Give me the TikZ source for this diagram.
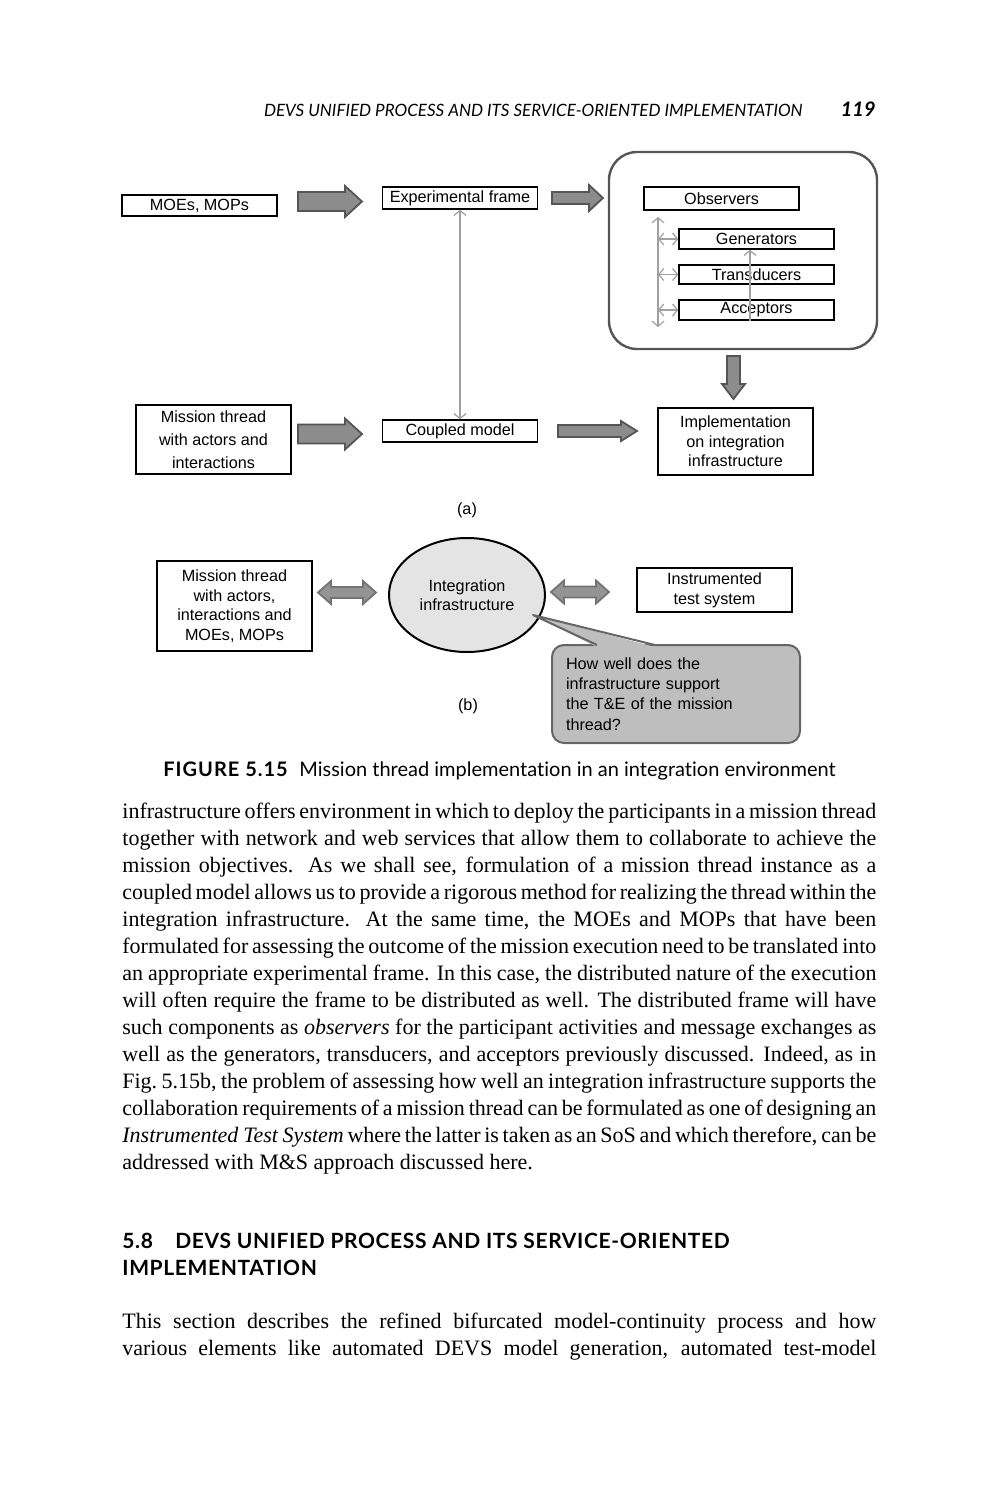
\documentclass[tikz,border=0pt]{standalone}
\usepackage{fontspec}
\usetikzlibrary{shapes.geometric, arrows.meta, positioning}
\newfontfamily\diagfont{Liberation Sans}
\newfontfamily\bodyfont{Liberation Serif}
\newfontfamily\headfont{Lato}[Ligatures=NoCommon]
\definecolor{fatgray}{HTML}{8C8C8C}
\definecolor{fatline}{HTML}{555555}
\definecolor{thingray}{HTML}{A0A0A0}
\definecolor{ellgray}{HTML}{E4E4E4}
\definecolor{notegray}{HTML}{BEBEBE}
\tikzset{
  box/.style={draw, line width=0.7pt, inner sep=0pt, align=center, minimum width=77.5pt,
    font=\diagfont\fontsize{8.1}{9.75}\selectfont},
  fat/.style={draw=fatline, fill=fatgray, line width=0.9pt},
  twin/.style={draw=black!55, fill=black!42, line width=0.9pt},
  link/.style={draw=thingray, line width=0.6pt,
    {Straight Barb[length=2.5pt,width=6pt]}-{Straight Barb[length=2.5pt,width=6pt]}},
  uplink/.style={draw=thingray, line width=0.6pt, -{Straight Barb[length=2.5pt,width=6pt]}},
  body/.style={anchor=north west, inner sep=0pt, text width=377pt, align=justify,
    font=\bodyfont\fontsize{11}{13.5}\selectfont},
}
% fat arrow pointing right: x0, x1, y, shaft half, head half, head length
\newcommand\fatright[6]{%
  \draw[fat] (#1,{#3-#4}) -- ({#2-#6},{#3-#4}) -- ({#2-#6},{#3-#5}) -- (#2,#3)
    -- ({#2-#6},{#3+#5}) -- ({#2-#6},{#3+#4}) -- (#1,{#3+#4}) -- cycle;}
% fat arrow with two heads: x0, x1, y, shaft half, head half, head length
\newcommand\fattwin[6]{%
  \draw[twin] (#1,#3) -- ({#1+#6},{#3-#5}) -- ({#1+#6},{#3-#4}) -- ({#2-#6},{#3-#4}) -- ({#2-#6},{#3-#5})
    -- (#2,#3) -- ({#2-#6},{#3+#5}) -- ({#2-#6},{#3+#4}) -- ({#1+#6},{#3+#4}) -- ({#1+#6},{#3+#5}) -- cycle;}
\newcommand\bodysetup{\tolerance=9999 \hyphenpenalty=10000 \fontdimen4\font=2.4pt \fontdimen3\font=2pt }
\begin{document}
\begin{tikzpicture}[x=0.5pt, y=-0.5pt]
\useasboundingbox (0,0) rectangle (993,1500);

% running head
\node[anchor=base east, inner sep=0pt, font=\headfont\itshape\fontsize{8.5}{10}\selectfont] (runhead) at (803,116)
  {DEVS UNIFIED PROCESS AND ITS SERVICE-ORIENTED IMPLEMENTATION};
\node[anchor=base east, inner sep=0pt, font=\headfont\bfseries\itshape\fontsize{10}{12}\selectfont] (pageno) at (876,116) {119};

% (a)
\node[box, minimum height=10.5pt] (moe) at (199.5,205.5) {MOEs, MOPs};
\node[box, minimum height=11pt] (ef) at (460,198) {Experimental frame};
\node[draw=fatline, line width=1.2pt, rounded corners=14pt, minimum width=134pt, minimum height=98.5pt] (dist) at (743,250.5) {};
\node[box, minimum height=11.5pt] (obs) at (721.5,198.5) {Observers};
\node[box, minimum height=10pt] (gen) at (756.5,239) {Generators};
\node[box, minimum height=9.5pt] (tra) at (756.5,274.5) {Transducers};
\node[box, minimum height=10pt] (acc) at (756.5,310) {Acceptors};
\node[box, minimum height=34.5pt, font=\diagfont\fontsize{8.1}{11.5}\selectfont] (mt) at (213.5,439.5)
  {Mission thread\\with actors and\\interactions};
\node[box, minimum height=11pt] (cm) at (460,431) {Coupled model};
\node[box, minimum height=33.5pt] (impl) at (735.5,441.5) {Implementation\\on integration\\infrastructure};
\node[font=\diagfont\fontsize{8.1}{10}\selectfont] (capa) at (467,510) {(a)};

\fatright{298}{362}{201.5}{9.5}{15.5}{17}
\fatright{552}{603}{198}{6}{13}{14}
\fatright{298}{362}{434}{9.5}{15.5}{17}
\fatright{558}{637}{431}{6}{10}{16}
\draw[fat] (727,356) -- (740,356) -- (740,384) -- (745,384) -- (733.5,399) -- (722,384) -- (727,384) -- cycle;

\coordinate (vtop) at (658,217);
\coordinate (vbot) at (658,327);
\draw[link] (ef.south) -- (cm.north);
\draw[link] (vtop) -- (vbot);
\draw[link] (vtop |- gen.west) -- (gen.west);
\draw[link] (vtop |- tra.west) -- (tra.west);
\draw[link] (vtop |- acc.west) -- (acc.west);
\draw[uplink] ([xshift=-3.25pt]acc.south) -- ([xshift=-3.25pt]gen.south);

% (b)
\node[box, minimum height=45pt] (mt2) at (234.5,606) {Mission thread\\with actors,\\interactions and\\MOEs, MOPs};
\fattwin{318}{376}{592.5}{5.5}{11.5}{13}
\node[ellipse, draw, line width=1pt, fill=ellgray, minimum width=78pt, minimum height=57pt, align=center,
  font=\diagfont\fontsize{8.1}{9.5}\selectfont] (ell) at (467,595) {Integration\\infrastructure};
\fattwin{551}{609}{592}{5.5}{11.5}{13}
\node[box, minimum height=22pt, font=\diagfont\fontsize{8.1}{10}\selectfont] (its) at (714.5,590) {Instrumented\\test system};
\node[draw=black!60, line width=1pt, fill=notegray, rounded corners=6pt, minimum width=124pt, minimum height=49pt,
  text width=110pt, inner xsep=7pt, align=left, font=\diagfont\fontsize{8.1}{10.15}\selectfont] (note) at (676,694)
  {How well does the\\infrastructure support\\the T\&E of the mission\\thread?};
\coordinate (tip) at (533,615);
\fill[notegray] (597,647) -- (tip) -- (655,647) -- cycle;
\draw[black!60, line width=1pt, line join=round] (597,645) -- (tip) -- (655,645);
\node[font=\diagfont\fontsize{8.1}{10}\selectfont] (capb) at (468,706) {(b)};

% caption
\node[anchor=base west, inner sep=0pt, font=\headfont\bfseries\fontsize{10}{12}\selectfont\addfontfeature{LetterSpace=5}] (fig) at (163,776) {FIGURE 5.15};
\node[anchor=base west, inner sep=0pt, font=\headfont\fontsize{10}{12}\selectfont] (figtext) at (299,776)
  {Mission thread implementation in an integration environment};

% text
\node[body] (para) at (122,803) {\bodysetup infrastructure offers environment in which to deploy the participants in a mission thread\linebreak
together with network and web services that allow them to collaborate to achieve the\linebreak
mission objectives. As we shall see, formulation of a mission thread instance as a\linebreak
coupled model allows us to provide a rigorous method for realizing the thread within the\linebreak
integration infrastructure. At the same time, the MOEs and MOPs that have been\linebreak
formulated for assessing the outcome of the mission execution need to be translated into\linebreak
an appropriate experimental frame. In this case, the distributed nature of the execution\linebreak
will often require the frame to be distributed as well. The distributed frame will have\linebreak
such components as \textit{observers} for the participant activities and message exchanges as\linebreak
well as the generators, transducers, and acceptors previously discussed. Indeed, as in\linebreak
Fig.~5.15b, the problem of assessing how well an integration infrastructure supports the\linebreak
collaboration requirements of a mission thread can be formulated as one of designing an\linebreak
\textit{Instrumented Test System} where the latter is taken as an SoS and which therefore, can be\linebreak
addressed with M\&S approach discussed here.};

\node[anchor=base west, inner sep=0pt, font=\headfont\bfseries\fontsize{10.5}{13.5}\selectfont\addfontfeature{LetterSpace=3}] (secno) at (122,1248) {5.8};
\node[anchor=base west, inner sep=0pt, font=\headfont\bfseries\fontsize{10.5}{13.5}\selectfont\addfontfeature{LetterSpace=3}] (sec1) at (175,1248)
  {DEVS UNIFIED PROCESS AND ITS SERVICE-ORIENTED};
\node[anchor=base west, inner sep=0pt, font=\headfont\bfseries\fontsize{10.5}{13.5}\selectfont\addfontfeature{LetterSpace=3}] (sec2) at (122,1275)
  {IMPLEMENTATION};

\node[body] (next) at (122,1313) {\bodysetup This section describes the refined bifurcated model-continuity process and how\linebreak
various elements like automated DEVS model generation, automated test-model\linebreak};
\end{tikzpicture}
\end{document}
